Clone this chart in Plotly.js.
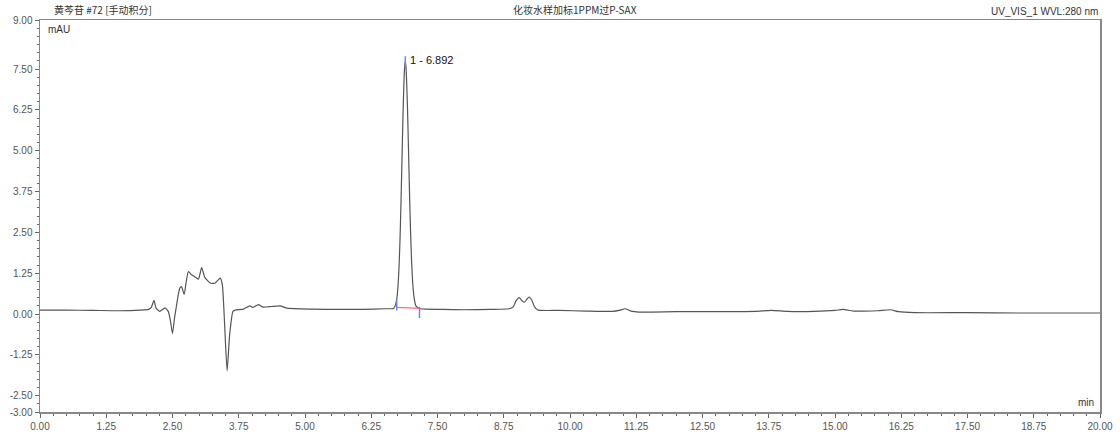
<!DOCTYPE html>
<html>
<head>
<meta charset="utf-8">
<script src="https://cdn.plot.ly/plotly-3.0.1.min.js"></script>
<style>
html,body{margin:0;padding:0;background:#fff;}
#chart{width:1120px;height:436px;}
</style>
</head>
<body>
<div id="chart"></div>
<script>
// Retention time (min)
const timeMin = [
  0.00, 0.50, 1.00, 1.50, 1.89, 2.05, 2.10, 2.15, 2.19, 2.26, 2.36, 2.42, 2.46, 2.50, 2.54, 2.57,
  2.61, 2.64, 2.67, 2.72, 2.76, 2.80, 2.86, 2.92, 2.99, 3.05, 3.11, 3.21, 3.30, 3.40, 3.44, 3.48,
  3.53, 3.58, 3.64, 3.68, 3.84, 3.96, 4.02, 4.12, 4.21, 4.37, 4.53, 4.65, 5.16, 5.60, 6.10, 6.50,
  6.67, 6.692, 6.712, 6.732, 6.752, 6.772, 6.792, 6.812, 6.832, 6.852, 6.872, 6.882, 6.892, 6.902,
  6.912, 6.932, 6.952, 6.972, 6.992, 7.012, 7.032, 7.052, 7.072, 7.092, 7.13, 7.17, 7.30, 7.60,
  8.00, 8.50, 8.85, 8.93, 8.98, 9.04, 9.10, 9.14, 9.19, 9.23, 9.28, 9.33, 9.40, 9.80, 10.30, 10.80,
  10.95, 11.04, 11.15, 11.30, 12.00, 12.80, 13.50, 13.80, 14.10, 14.60, 15.00, 15.15, 15.35, 15.80,
  16.05, 16.20, 16.50, 17.50, 18.50, 20.00
];
// Absorbance (mAU)
const signalMAU = [
  0.12, 0.12, 0.11, 0.10, 0.12, 0.14, 0.20, 0.42, 0.18, 0.08, 0.19, 0.08, -0.20, -0.60, -0.10, 0.20,
  0.60, 0.80, 0.84, 0.60, 1.00, 1.30, 1.20, 1.14, 1.07, 1.42, 1.12, 0.95, 0.94, 1.10, 0.90, -0.20,
  -1.74, -0.60, 0.08, 0.12, 0.15, 0.25, 0.20, 0.29, 0.21, 0.23, 0.25, 0.18, 0.15, 0.14, 0.14, 0.16,
  0.17, 0.22, 0.31, 0.47, 0.79, 1.36, 2.24, 3.46, 4.90, 6.29, 7.32, 7.62, 7.72, 7.63,
  7.35, 6.40, 5.10, 3.70, 2.50, 1.58, 0.95, 0.58, 0.36, 0.25, 0.19, 0.16, 0.15, 0.14,
  0.13, 0.14, 0.16, 0.22, 0.40, 0.50, 0.40, 0.36, 0.46, 0.52, 0.42, 0.22, 0.12, 0.11, 0.09, 0.08,
  0.12, 0.16, 0.09, 0.06, 0.07, 0.07, 0.08, 0.11, 0.08, 0.08, 0.11, 0.14, 0.09, 0.10,
  0.13, 0.07, 0.04, 0.04, 0.03, 0.03
];
// Peak integration baseline and delimiters
const peakBaseT = [6.73, 7.16];
const peakBaseV = [0.20, 0.17];
const peakMarkT = [6.73, 6.892, 7.16];
const peakMarkV = [0.28, 7.72, 0.05];
const peakLabel = "1 - 6.892";
const peakApexT = 6.892, peakApexV = 7.72;

// Tick labels
const xTickVals = [0,1.25,2.5,3.75,5,6.25,7.5,8.75,10,11.25,12.5,13.75,15,16.25,17.5,18.75,20];
const xTickText = ["0.00","1.25","2.50","3.75","5.00","6.25","7.50","8.75","10.00","11.25","12.50","13.75","15.00","16.25","17.50","18.75","20.00"];
const yTickVals = [9,7.5,6.25,5,3.75,2.5,1.25,0,-1.25,-2.5,-3];
const yTickText = ["9.00","7.50","6.25","5.00","3.75","2.50","1.25","0.00","-1.25","-2.50","-3.00"];

const titleLeft = "黄芩苷 #72 [手动积分]";
const titleCenter = "化妆水样加标1PPM过P-SAX";
const titleRight = "UV_VIS_1 WVL:280 nm";

const baseFont = "Liberation Sans, Arial, Noto Sans CJK SC, sans-serif";

const traces = [
  {x: timeMin, y: signalMAU, type: "scatter", mode: "lines",
   line: {color: "#555555", width: 1.2, shape: "spline", smoothing: 0.5}, hoverinfo: "x+y"},
  {x: peakBaseT, y: peakBaseV, type: "scatter", mode: "lines",
   line: {color: "#ff7070", width: 1.2}},
  {x: peakMarkT, y: peakMarkV, type: "scatter", mode: "markers",
   marker: {symbol: "line-ns", size: 8, line: {color: "#7080ff", width: 1.5}}}
];

const layout = {
  width: 1120, height: 436,
  margin: {l: 40, r: 20, t: 20, b: 24},
  paper_bgcolor: "#fff", plot_bgcolor: "#fff",
  showlegend: false,
  font: {family: baseFont, size: 10, color: "#444"},
  xaxis: {
    range: [0, 20], tickmode: "array", tickvals: xTickVals, ticktext: xTickText,
    ticks: "outside", ticklen: 4, tickcolor: "#666", tickwidth: 1,
    minor: {tickmode: "linear", tick0: 0, dtick: 0.25, ticks: "outside", ticklen: 2, tickcolor: "#666"},
    showgrid: false, zeroline: false, showline: true, linecolor: "#888", linewidth: 1.5, mirror: true,
    tickfont: {family: baseFont, size: 10, color: "#555"}
  },
  yaxis: {
    range: [-3, 9], tickmode: "array", tickvals: yTickVals, ticktext: yTickText,
    ticks: "outside", ticklen: 4, tickcolor: "#666", tickwidth: 1,
    minor: {tickmode: "linear", tick0: 0, dtick: 0.25, ticks: "outside", ticklen: 2, tickcolor: "#666"},
    showgrid: false, zeroline: false, showline: true, linecolor: "#888", linewidth: 1.5, mirror: true,
    tickfont: {family: baseFont, size: 10, color: "#555"}
  },
  annotations: [
    {text: titleLeft, xref: "paper", yref: "paper", x: 0, y: 1, xanchor: "left", yanchor: "bottom",
     xshift: 12, yshift: 1, showarrow: false, font: {family: "Noto Sans CJK SC, sans-serif", size: 10, color: "#333"}},
    {text: titleCenter, xref: "paper", yref: "paper", x: 0.505, y: 1, xanchor: "center", yanchor: "bottom",
     yshift: 1, showarrow: false, font: {family: "Noto Sans CJK SC, sans-serif", size: 10, color: "#333"}},
    {text: titleRight, xref: "paper", yref: "paper", x: 1, y: 1, xanchor: "right", yanchor: "bottom",
     yshift: 1, showarrow: false, font: {family: baseFont, size: 10, color: "#333"}},
    {text: "mAU", xref: "paper", yref: "paper", x: 0, y: 1, xanchor: "left", yanchor: "top",
     xshift: 6, yshift: -2, showarrow: false, font: {family: baseFont, size: 10, color: "#333"}},
    {text: "min", xref: "paper", yref: "paper", x: 1, y: 0, xanchor: "right", yanchor: "bottom",
     xshift: -4, yshift: 2, showarrow: false, font: {family: baseFont, size: 10, color: "#333"}},
    {text: peakLabel, x: peakApexT, y: peakApexV, xref: "x", yref: "y", xanchor: "left", yanchor: "middle",
     xshift: 3, yshift: 2, showarrow: false, font: {family: baseFont, size: 11, color: "#111"}}
  ]
};

Plotly.newPlot("chart", traces, layout, {displayModeBar: false, staticPlot: true});
</script>
</body>
</html>
